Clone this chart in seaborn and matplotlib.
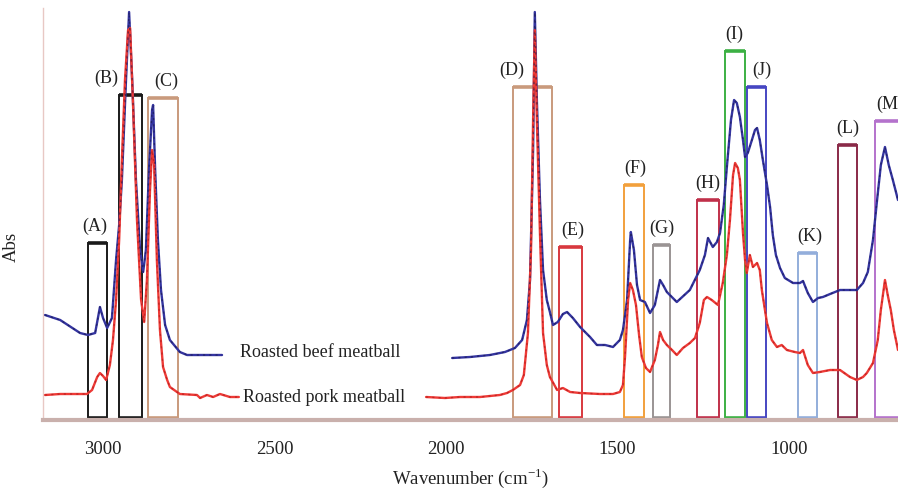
import numpy as np
import pandas as pd
import matplotlib
matplotlib.use("Agg")
import matplotlib.pyplot as plt
from matplotlib.patches import Rectangle
import seaborn as sns

# ---------------- data (wavenumber cm-1, absorbance a.u.) ----------------
beef_left_wn = [3169, 3125, 3067, 3044, 3023, 3009, 3000, 2988, 2974, 2962, 2953, 2945,
                2933, 2924, 2915, 2904, 2892, 2883, 2875, 2866, 2857, 2854, 2848, 2840,
                2831, 2819, 2805, 2776, 2755, 2653]
beef_left_abs = [1.05, 1.00, 0.87, 0.85, 0.87, 1.13, 1.02, 0.92, 1.02, 1.60, 1.95, 2.40,
                 3.40, 4.08, 3.40, 2.40, 1.70, 1.48, 1.70, 2.50, 3.10, 3.15, 2.50, 1.80,
                 1.30, 0.95, 0.80, 0.68, 0.65, 0.65]

beef_right_wn = [1982, 1930, 1872, 1828, 1799, 1778, 1764, 1755, 1746, 1741, 1735, 1726,
                 1717, 1706, 1697, 1688, 1674, 1659, 1647, 1630, 1609, 1580, 1560, 1536,
                 1513, 1493, 1484, 1472, 1463, 1461, 1452, 1443, 1434, 1420, 1405, 1391,
                 1376, 1367, 1356, 1327, 1289, 1260, 1245, 1236, 1222, 1210, 1201, 1190,
                 1181, 1169, 1160, 1152, 1143, 1134, 1128, 1120, 1108, 1099, 1093, 1085,
                 1076, 1064, 1055, 1047, 1038, 1026, 1012, 988, 968, 959, 945, 930, 915,
                 901, 880, 851, 822, 802, 784, 770, 755, 743, 732, 720, 709, 697, 682]
beef_right_abs = [0.62, 0.63, 0.65, 0.68, 0.72, 0.80, 1.00, 1.40, 2.70, 4.08, 3.20, 2.20,
                  1.50, 1.20, 1.08, 0.95, 0.98, 1.06, 1.08, 1.02, 0.93, 0.83, 0.75, 0.75,
                  0.73, 0.80, 0.90, 1.20, 1.80, 1.88, 1.70, 1.35, 1.20, 1.18, 1.07, 1.15,
                  1.40, 1.35, 1.28, 1.18, 1.30, 1.50, 1.65, 1.82, 1.73, 1.78, 1.87, 2.15,
                  2.53, 3.00, 3.20, 3.17, 3.03, 2.80, 2.63, 2.67, 2.80, 2.90, 2.92, 2.80,
                  2.60, 2.35, 2.13, 1.85, 1.65, 1.52, 1.42, 1.37, 1.37, 1.39, 1.27, 1.18, 1.22,
                  1.23, 1.26, 1.30, 1.30, 1.30, 1.37, 1.48, 1.80, 2.20, 2.55, 2.73, 2.55, 2.40, 2.20]

pork_left_wn = [3169, 3125, 3047, 3032, 3017, 3009, 3000, 2991, 2980, 2971, 2962, 2953,
                2945, 2936, 2927, 2921, 2913, 2901, 2889, 2880, 2872, 2863, 2857, 2851,
                2843, 2834, 2825, 2813, 2805, 2776, 2726, 2717, 2697, 2679, 2659, 2630, 2604]
pork_left_abs = [0.25, 0.26, 0.26, 0.30, 0.43, 0.47, 0.44, 0.40, 0.55, 0.80, 1.20, 1.80,
                 2.60, 3.40, 3.90, 3.92, 3.20, 2.00, 1.20, 0.98, 1.40, 2.30, 2.70, 2.55,
                 1.60, 0.90, 0.53, 0.40, 0.33, 0.26, 0.25, 0.22, 0.25, 0.23, 0.26, 0.23, 0.23]

pork_right_wn = [2058, 2003, 1959, 1901, 1843, 1822, 1805, 1784, 1773, 1761, 1752, 1746,
                 1741, 1735, 1726, 1717, 1706, 1697, 1676, 1659, 1638, 1609, 1551, 1513,
                 1493, 1484, 1478, 1469, 1463, 1455, 1446, 1437, 1429, 1417, 1405, 1391,
                 1382, 1376, 1367, 1356, 1341, 1327, 1309, 1289, 1274, 1260, 1248, 1239,
                 1225, 1207, 1193, 1181, 1172, 1163, 1157, 1149, 1143, 1134, 1128, 1123,
                 1114, 1105, 1093, 1085, 1079, 1064, 1050, 1035, 1021, 1006, 983, 968, 959,
                 945, 930, 910, 880, 851, 822, 802, 784, 773, 755, 741, 732, 720, 712, 703,
                 694, 682]
pork_right_abs = [0.23, 0.22, 0.23, 0.23, 0.25, 0.27, 0.30, 0.35, 0.45, 0.87, 1.70, 3.00,
                  3.90, 3.00, 1.87, 0.87, 0.55, 0.43, 0.30, 0.32, 0.28, 0.27, 0.26, 0.26,
                  0.28, 0.35, 0.63, 1.20, 1.37, 1.30, 1.15, 0.85, 0.63, 0.52, 0.48, 0.60,
                  0.75, 0.88, 0.80, 0.75, 0.70, 0.65, 0.72, 0.77, 0.82, 0.97, 1.20, 1.23,
                  1.20, 1.15, 1.37, 1.65, 2.00, 2.45, 2.57, 2.52, 2.40, 1.87, 1.60, 1.47,
                  1.65, 1.53, 1.57, 1.50, 1.30, 0.97, 0.80, 0.73, 0.75, 0.70, 0.68, 0.67, 0.70,
                  0.55, 0.47, 0.48, 0.50, 0.50, 0.43, 0.40, 0.43, 0.47, 0.57, 0.80, 1.10, 1.40,
                  1.25, 1.10, 0.90, 0.70]

series_names = ["Roasted beef meatball", "Roasted pork meatball"]
series_colors = ["#3434a0", "#ee3a36"]
series_dot_colors = ["#1c1c55", "#b01e1e"]

# band boxes: label, high wavenumber, low wavenumber, top absorbance, label centre, colour
band_labels = ["(A)", "(B)", "(C)", "(D)", "(E)", "(F)", "(G)", "(H)", "(I)", "(J)", "(K)", "(L)", "(M)"]
band_hi = [3044, 2953, 2869, 1805, 1670, 1481, 1396, 1268, 1187, 1123, 973, 856, 748]
band_lo = [2988, 2886, 2781, 1691, 1603, 1423, 1347, 1204, 1129, 1067, 917, 801, 660]
band_top = [1.77, 3.25, 3.22, 3.33, 1.73, 2.35, 1.75, 2.20, 3.69, 3.33, 1.67, 2.75, 2.99]
band_label_x = [3023, 2991, 2816, 1808, 1630, 1449, 1370, 1236, 1160, 1079, 939, 828, 706]
band_colors = ["#1a1a1a", "#1a1a1a", "#c99a7c", "#c99a7c", "#d8383e", "#f2a03c", "#9a9494",
               "#c0304a", "#3cb043", "#4646c2", "#93aedb", "#8a2a48", "#b472cc"]

xticks_major = [3000, 2500, 2000, 1500, 1000]

# ---------------- build long table ----------------
frames = []
for name, seg, wn, ab in [
    (series_names[0], "b1", beef_left_wn, beef_left_abs),
    (series_names[0], "b2", beef_right_wn, beef_right_abs),
    (series_names[1], "p1", pork_left_wn, pork_left_abs),
    (series_names[1], "p2", pork_right_wn, pork_right_abs),
]:
    frames.append(pd.DataFrame({"wn": wn, "abs": ab, "sample": name, "seg": seg}))
df = pd.concat(frames, ignore_index=True)

sns.set_style("white")
plt.rcParams["font.family"] = ["Liberation Serif", "DejaVu Serif"]
plt.rcParams["mathtext.fontset"] = "custom"
plt.rcParams["mathtext.rm"] = "Liberation Serif"

fig = plt.figure(figsize=(8.98, 4.91), dpi=100)
ax = fig.add_axes([0.0479, 0.1446, 0.9521, 0.8391])

# boxes (drawn under spectra)
for lab, hi, lo, top, lx, col in zip(band_labels, band_hi, band_lo, band_top,
                                     band_label_x, band_colors):
    ax.add_patch(Rectangle((lo, 0.02), hi - lo, top - 0.02, fill=False,
                           edgecolor=col, linewidth=1.4, zorder=2))
    ax.plot([hi, lo], [top, top], color=col, lw=2.6, zorder=2, solid_capstyle="butt")
    ax.plot([hi, lo], [0.02, 0.02], color=col, lw=2.6, zorder=2, solid_capstyle="butt")
    ax.text(lx, top + 0.08, lab, ha="center", va="bottom", fontsize=13,
            color="#222222", clip_on=False)

pal = dict(zip(series_names, series_colors))
sns.lineplot(data=df, x="wn", y="abs", hue="sample", units="seg", estimator=None,
             sort=False, palette=pal, legend=False, linewidth=1.7, ax=ax, zorder=3)
# darker dotted overlay mimicking the scanned trace texture
sns.lineplot(data=df, x="wn", y="abs", hue="sample", units="seg", estimator=None,
             sort=False, palette=dict(zip(series_names, series_dot_colors)), legend=False,
             linewidth=1.0, ax=ax, zorder=4, linestyle=(0, (1.5, 3)), alpha=0.7)

ax.text(2600, 0.68, series_names[0], ha="left", va="center", fontsize=13, color="#222222")
ax.text(2592, 0.23, series_names[1], ha="left", va="center", fontsize=13, color="#222222")

ax.set_xlim(3175, 682)
ax.set_ylim(0, 4.12)

ax.set_xticks(xticks_major)
ax.set_xticks(np.arange(3100, 700, -100), minor=True)
ax.set_yticks([0.15, 1.55, 2.95])
ax.set_yticklabels([])
ax.tick_params(axis="x", which="major", direction="out", length=6, width=1.2,
               colors="#444444", labelsize=13.5, labelcolor="#222222", pad=9)
ax.tick_params(axis="x", which="minor", direction="out", length=4, width=1.2,
               colors="#444444")
ax.tick_params(axis="y", direction="in", length=2.5, width=2.5, colors="#222222")

for s in ["top", "right"]:
    ax.spines[s].set_visible(False)
ax.spines["left"].set_color("#e8c8c4")
ax.spines["left"].set_linewidth(1.0)
ax.spines["bottom"].set_color("#c9b0ac")
ax.spines["bottom"].set_linewidth(3)

ax.set_xlabel("Wavenumber (cm$^{\\mathrm{-1}}$)", fontsize=13.5, color="#222222", labelpad=6)
ax.set_ylabel("Abs", fontsize=13.5, color="#222222")
ax.yaxis.set_label_coords(-0.027, 0.42)

fig.savefig("out.png", dpi=100)
